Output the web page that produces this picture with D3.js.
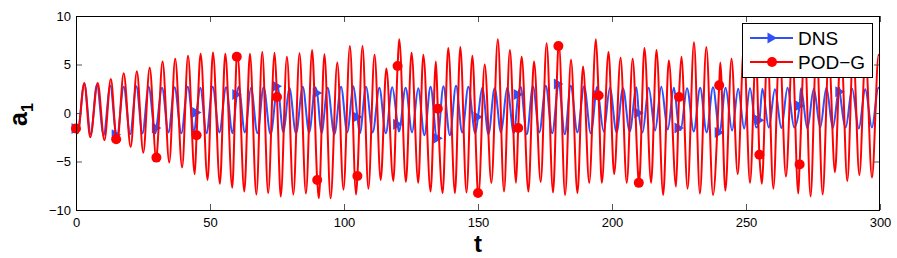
<!DOCTYPE html>
<html>
<head>
<meta charset="utf-8">
<script src="https://cdn.jsdelivr.net/npm/d3@7/dist/d3.min.js"></script>
<style>
  html, body { margin: 0; padding: 0; background: #fff; }
  svg { display: block; font-family: "Liberation Sans", Arial, Helvetica, sans-serif; }
</style>
</head>
<body>
<div id="chart"></div>
<script>
// ---- data ----
// DNS (blue): times / values of local maxima and minima, plus marker points
const dnsPeakT = [3.1, 7.8, 12.8, 17.8, 22.5, 27.1, 32.1, 36.8, 41.7, 46.4, 51.0, 56.0, 60.7, 65.3, 70.0, 75.1,
    79.6, 84.6, 89.3, 93.9, 98.9, 103.5, 108.2, 113.2, 118.0, 123.0, 127.7, 132.3, 137.1, 141.8, 146.4, 151.6,
    156.2, 160.9, 165.9, 170.5, 175.3, 180.1, 184.6, 189.6, 194.5, 199.2, 204.1, 209.1, 213.7, 218.4, 223.1,
    228.0, 232.9, 237.7, 242.4, 247.1, 251.5, 256.1, 260.8, 265.5, 270.5, 275.3, 280.0, 284.8, 289.6, 294.5, 299.4];
const dnsPeakV = [3.0, 2.9, 2.8, 2.7, 2.75, 2.7, 2.6, 2.65, 2.7, 2.6, 2.7, 2.65, 2.7, 2.6, 2.65, 2.85,
    2.6, 2.7, 2.65, 2.6, 2.7, 2.75, 2.7, 2.6, 2.65, 2.6, 2.55, 2.7, 2.75, 2.8, 2.7, 2.6,
    2.55, 2.6, 2.7, 2.75, 2.8, 3.05, 2.8, 2.75, 2.7, 2.6, 2.55, 2.65, 2.6, 2.7, 2.6,
    2.55, 2.6, 2.65, 2.6, 2.5, 2.55, 2.5, 2.45, 2.6, 2.55, 2.5, 2.6, 2.6, 2.5, 2.45, 2.6];
const dnsTroughT = [0.6, 5.5, 10.3, 15.3, 20.2, 24.8, 29.6, 34.5, 39.3, 44.1, 48.7, 53.5, 58.4, 63.0, 67.7, 72.6,
    77.4, 82.1, 87.0, 91.6, 96.4, 101.2, 105.9, 110.7, 115.6, 120.5, 125.4, 130.0, 134.7, 139.5, 144.1, 149.0,
    153.9, 158.6, 163.4, 168.2, 172.9, 177.7, 182.4, 187.1, 192.1, 196.9, 201.7, 206.6, 211.4, 216.1, 220.8,
    225.6, 230.5, 235.3, 240.1, 244.8, 249.3, 253.8, 258.5, 263.2, 268.0, 272.9, 277.7, 282.4, 287.2, 292.1, 297.0];
const dnsTroughV = [-2.0, -2.2, -2.3, -2.35, -2.2, -2.1, -2.1, -2.0, -2.1, -2.0, -2.1, -2.0, -2.1, -2.0, -2.1, -2.2,
    -2.0, -2.1, -2.0, -2.1, -2.2, -2.0, -2.1, -2.0, -2.1, -1.9, -2.0, -2.3, -2.65, -2.3, -2.0, -2.1,
    -2.2, -2.0, -2.1, -2.2, -2.0, -2.1, -2.2, -2.0, -2.1, -1.9, -2.0, -1.9, -2.0, -1.8, -1.7,
    -1.75, -1.9, -2.0, -2.05, -1.8, -1.6, -1.5, -1.5, -1.55, -1.5, -1.6, -1.5, -1.55, -1.5, -1.6, -1.5];
const dnsMarkT = [0, 15, 30, 45, 60, 75, 90, 105, 120, 135, 150, 165, 180, 195, 210, 225, 240, 255, 270, 285];
const dnsMarkV = [-1.6, -2.25, -1.55, 0.05, 1.9, 2.75, 2.05, -0.4, -1.15, -2.6, -0.4, 1.9, 3.0, 1.8, 0.0, -1.55,
    -2.0, -0.75, 0.75, 2.2];
const dnsEnd = [300, 2.5];

// POD-G (red)
const podPeakT = [3.1, 8.1, 13.0, 17.8, 22.7, 27.5, 32.3, 37.0, 41.8, 46.5, 51.1, 55.7, 60.3, 64.9, 69.5, 74.1,
    78.7, 83.4, 88.1, 92.7, 97.5, 102.2, 106.9, 111.4, 115.8, 120.6, 125.2, 129.6, 134.3, 138.9, 143.4, 147.9,
    152.5, 157.4, 161.9, 166.3, 170.9, 175.6, 180.2, 184.7, 189.2, 194.0, 198.7, 203.2, 207.7, 212.1, 216.6,
    221.2, 225.9, 230.6, 235.2, 240.4, 244.6, 249.2, 253.7, 258.0, 262.5, 267.3, 271.9, 276.3, 280.9, 285.5,
    290.0, 294.6, 299.5];
const podPeakV = [3.1, 3.1, 3.5, 4.1, 4.3, 4.7, 5.3, 5.6, 5.9, 6.1, 6.25, 6.1, 6.0, 6.1, 6.3, 6.2,
    5.8, 6.15, 6.5, 6.05, 5.2, 6.9, 6.9, 6.0, 4.6, 7.6, 6.2, 6.0, 5.3, 6.7, 6.8, 5.9,
    5.0, 7.6, 6.5, 5.8, 5.3, 7.2, 7.1, 5.5, 4.8, 7.6, 6.3, 5.7, 5.6, 6.7, 6.5,
    5.4, 5.8, 7.3, 6.8, 5.2, 5.6, 6.8, 6.2, 6.6, 7.0, 6.2, 6.8, 7.1, 6.0, 6.7,
    6.5, 6.2, 6.0];
const podTroughT = [0.6, 5.3, 10.6, 15.4, 20.4, 25.1, 29.9, 34.8, 39.6, 44.3, 49.1, 53.7, 58.3, 62.8, 67.3, 71.7,
    76.4, 81.1, 85.8, 90.6, 95.0, 99.8, 104.5, 109.1, 113.7, 118.4, 123.1, 127.7, 132.3, 136.8, 141.4, 145.7,
    150.2, 155.0, 159.7, 164.2, 168.8, 173.4, 178.0, 182.5, 187.1, 191.5, 196.2, 200.8, 205.5, 210.1, 214.6,
    219.1, 223.9, 228.2, 232.8, 237.7, 242.3, 246.9, 251.5, 255.9, 260.2, 264.9, 269.5, 274.1, 278.6, 283.2,
    287.8, 292.3, 297.0];
const podTroughV = [-2.1, -2.5, -2.8, -3.0, -3.5, -4.1, -4.65, -5.1, -5.6, -6.3, -6.9, -7.3, -7.7, -8.1, -8.4, -8.25,
    -8.6, -8.4, -8.3, -8.8, -8.8, -7.9, -8.4, -7.8, -6.9, -7.0, -7.1, -7.2, -8.1, -8.25, -8.25, -8.2,
    -8.35, -7.2, -8.1, -7.2, -8.1, -7.1, -8.2, -8.45, -8.25, -7.2, -7.2, -6.3, -7.2, -7.3, -7.2,
    -8.45, -7.6, -7.8, -8.3, -8.45, -8.0, -6.3, -7.2, -7.3, -7.8, -6.55, -8.3, -8.6, -8.4, -6.1,
    -7.0, -6.4, -6.65];
const podMarkT = [0, 15, 30, 45, 60, 75, 90, 105, 120, 135, 150, 165, 180, 195, 210, 225, 240, 255, 270, 285];
const podMarkV = [-1.6, -2.7, -4.6, -2.3, 5.8, 1.65, -6.9, -6.5, 4.85, 0.45, -8.25, -1.55, 6.9, 1.8, -7.2, 1.65,
    2.85, -4.3, -5.3, 5.5];
const podEnd = [300, 5.9];

const xTicks = [0, 50, 100, 150, 200, 250, 300];
const yTicks = [-10, -5, 0, 5, 10];

// ---- layout ----
const W = 897, H = 258;
const plot = { left: 76, right: 880, top: 16, bottom: 210 };
const blue = '#3050f8', red = '#ff0000';

const x = d3.scaleLinear().domain([0, 300]).range([plot.left, plot.right]);
const y = d3.scaleLinear().domain([-10, 10]).range([plot.bottom, plot.top]);

function buildSeries(pt, pv, tt, tv, mt, mv, end) {
    const pts = [];
    pt.forEach((t, i) => pts.push({ t, v: pv[i] }));
    tt.forEach((t, i) => pts.push({ t, v: tv[i] }));
    mt.forEach((t, i) => pts.push({ t, v: mv[i] }));
    pts.push({ t: end[0], v: end[1] });
    pts.sort((a, b) => a.t - b.t);
    return pts.filter((p, i) => i === 0 || p.t !== pts[i - 1].t);
}

const svg = d3.select('#chart').append('svg')
    .attr('width', W)
    .attr('height', H);

svg.append('defs').append('clipPath')
    .attr('id', 'clip')
    .append('rect')
    .attr('x', plot.left).attr('y', plot.top)
    .attr('width', plot.right - plot.left)
    .attr('height', plot.bottom - plot.top);

const line = d3.line()
    .x(d => x(d.t))
    .y(d => y(d.v))
    .curve(d3.curveMonotoneX);

const triPath = 'M-4.5,-5.5L5,0L-4.5,5.5Z';

// each series: clipped line, then its (unclipped) markers; DNS first, POD-G on top
const series = [
    { data: buildSeries(dnsPeakT, dnsPeakV, dnsTroughT, dnsTroughV, dnsMarkT, dnsMarkV, dnsEnd),
      marks: dnsMarkT.map((t, i) => ({ t, v: dnsMarkV[i] })), color: blue, shape: 'tri' },
    { data: buildSeries(podPeakT, podPeakV, podTroughT, podTroughV, podMarkT, podMarkV, podEnd),
      marks: podMarkT.map((t, i) => ({ t, v: podMarkV[i] })), color: red, shape: 'circle' }
];

series.forEach(s => {
    svg.append('path')
        .datum(s.data)
        .attr('clip-path', 'url(#clip)')
        .attr('fill', 'none')
        .attr('stroke', s.color)
        .attr('stroke-width', 2)
        .attr('stroke-linejoin', 'round')
        .attr('d', line);

    const g = svg.append('g');
    if (s.shape === 'tri') {
        g.selectAll('path')
            .data(s.marks)
            .enter()
            .append('path')
            .attr('d', triPath)
            .attr('fill', s.color)
            .attr('transform', d => `translate(${x(d.t)},${y(d.v)})`);
    } else {
        g.selectAll('circle')
            .data(s.marks)
            .enter()
            .append('circle')
            .attr('cx', d => x(d.t))
            .attr('cy', d => y(d.v))
            .attr('r', 5)
            .attr('fill', s.color);
    }
});

// ---- axes (MATLAB style: inward ticks on all four sides) ----
const tickLen = 6;

svg.append('g')
    .attr('transform', `translate(0,${plot.bottom})`)
    .call(d3.axisBottom(x).tickValues(xTicks).tickSizeInner(-tickLen).tickSizeOuter(0).tickPadding(8));

svg.append('g')
    .attr('transform', `translate(0,${plot.top})`)
    .call(d3.axisTop(x).tickValues(xTicks).tickSizeInner(-tickLen).tickSizeOuter(0).tickFormat(''));

svg.append('g')
    .attr('transform', `translate(${plot.left},0)`)
    .call(d3.axisLeft(y).tickValues(yTicks).tickSizeInner(-tickLen).tickSizeOuter(0).tickPadding(5));

svg.append('g')
    .attr('transform', `translate(${plot.right},0)`)
    .call(d3.axisRight(y).tickValues(yTicks).tickSizeInner(-tickLen).tickSizeOuter(0).tickFormat(''));

svg.selectAll('.domain').remove();
svg.selectAll('.tick line').attr('stroke', '#555');
svg.selectAll('.tick text')
    .attr('fill', '#000')
    .style('font-size', '13px')
    .style('font-family', '"Liberation Sans", Arial, sans-serif');

// frame
svg.append('rect')
    .attr('x', plot.left + 0.5)
    .attr('y', plot.top + 0.5)
    .attr('width', plot.right - plot.left - 1)
    .attr('height', plot.bottom - plot.top)
    .attr('fill', 'none')
    .attr('stroke', '#000')
    .attr('stroke-width', 1);

// axis labels
svg.append('text')
    .attr('x', (plot.left + plot.right) / 2)
    .attr('y', 252)
    .attr('text-anchor', 'middle')
    .style('font-size', '24px')
    .style('font-weight', 'bold')
    .text('t');

const ylab = svg.append('text')
    .attr('transform', 'translate(27,126) rotate(-90)')
    .style('font-size', '25px')
    .style('font-weight', 'bold');
ylab.append('tspan').text('a');
ylab.append('tspan')
    .attr('dy', 6)
    .style('font-size', '16px')
    .text('1');

// ---- legend ----
const legend = svg.append('g').attr('transform', 'translate(742,23)');
legend.append('rect')
    .attr('x', 0.5).attr('y', 0.5)
    .attr('width', 130).attr('height', 54)
    .attr('fill', '#fff')
    .attr('stroke', '#000')
    .attr('stroke-width', 1);

const entries = [
    { label: 'DNS', color: blue, shape: 'tri' },
    { label: 'POD\u2212G', color: red, shape: 'circle' }
];

entries.forEach((e, i) => {
    const row = legend.append('g').attr('transform', `translate(0,${15 + i * 24})`);
    row.append('line')
        .attr('x1', 8).attr('x2', 51)
        .attr('stroke', e.color)
        .attr('stroke-width', 2);
    if (e.shape === 'tri') {
        row.append('path')
            .attr('d', triPath)
            .attr('transform', 'translate(30,0)')
            .attr('fill', e.color);
    } else {
        row.append('circle')
            .attr('cx', 30).attr('r', 5)
            .attr('fill', e.color);
    }
    row.append('text')
        .attr('x', 56)
        .attr('y', 7)
        .style('font-size', '19px')
        .text(e.label);
});
</script>
</body>
</html>
